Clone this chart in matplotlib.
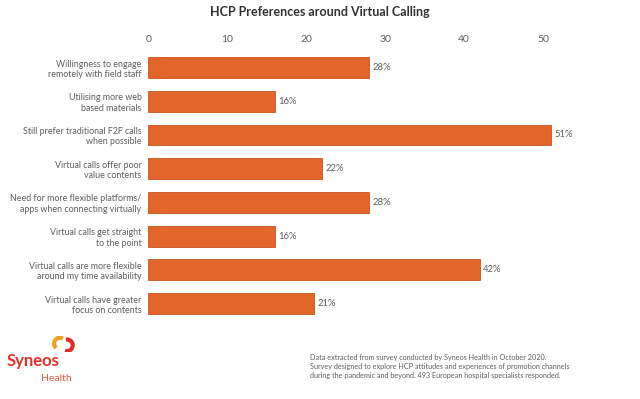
import matplotlib.pyplot as plt
from matplotlib.patches import Arc

categories = [
    "Willingness to engage\nremotely with field staff",
    "Utilising more web\nbased materials",
    "Still prefer traditional F2F calls\nwhen possible",
    "Virtual calls offer poor\nvalue contents",
    "Need for more flexible platforms/\napps when connecting virtually",
    "Virtual calls get straight\nto the point",
    "Virtual calls are more flexible\naround my time availability",
    "Virtual calls have greater\nfocus on contents",
]
values = [28, 16, 51, 22, 28, 16, 42, 21]
ticks = [0, 10, 20, 30, 40, 50]

orange = "#E2662A"
grey = "#5f5f5f"
plt.rcParams['font.family'] = ['Lato', 'DejaVu Sans']

fig = plt.figure(figsize=(6.4, 3.99), dpi=100)
ax = fig.add_axes([0.232, 0.197, 0.74, 0.676])

y = list(range(len(values)))
ax.barh(y, values, height=0.62, color=orange, edgecolor="#C9541D", linewidth=0.6)
for yi, v in zip(y, values):
    ax.text(v + 0.4, yi, f"{v}%", va="center", ha="left", fontsize=6.8, color=grey)

ax.set_xlim(0, 60)
ax.set_ylim(len(values) - 0.5, -0.5)
ax.set_yticks(y)
ax.set_yticklabels(categories, fontsize=6.4, color=grey, linespacing=1.2)
ax.set_xticks(ticks)
ax.xaxis.tick_top()
ax.tick_params(axis='x', length=0, pad=5, labelsize=7.5, labelcolor=grey)
ax.tick_params(axis='y', length=0, pad=5)
for s in ax.spines.values():
    s.set_visible(False)

fig.text(0.5, 0.985, "HCP Preferences around Virtual Calling", ha="center", va="top",
         fontsize=9, fontweight="bold", color="#333333")

note = ("Data extracted from survey conducted by Syneos Health in October 2020.\n"
        "Survey designed to explore HCP attitudes and experiences of promotion channels\n"
        "during the pandemic and beyond. 493 European hospital specialists responded.")
fig.text(0.485, 0.05, note, ha="left", va="bottom", fontsize=5.2, color=grey, linespacing=1.3)

# logo
fig.text(0.011, 0.075, "Syneos", ha="left", va="bottom", fontsize=12, fontweight="bold", color="#E0312B")
fig.text(0.064, 0.04, "Health", ha="left", va="bottom", fontsize=7.5, color="#E05A3A")
lax = fig.add_axes([0.08, 0.115, 0.04, 0.045])
lax.set_aspect("equal")
lax.set_xlim(0, 2.2)
lax.set_ylim(0, 1.4)
lax.axis("off")
lax.add_patch(Arc((0.75, 0.75), 1.0, 1.0, theta1=60, theta2=230, lw=3, color="#F0A020"))
lax.add_patch(Arc((1.35, 0.6), 1.0, 1.0, theta1=-110, theta2=100, lw=3, color="#E0312B"))

fig.savefig("out.png", dpi=100, facecolor="white")
